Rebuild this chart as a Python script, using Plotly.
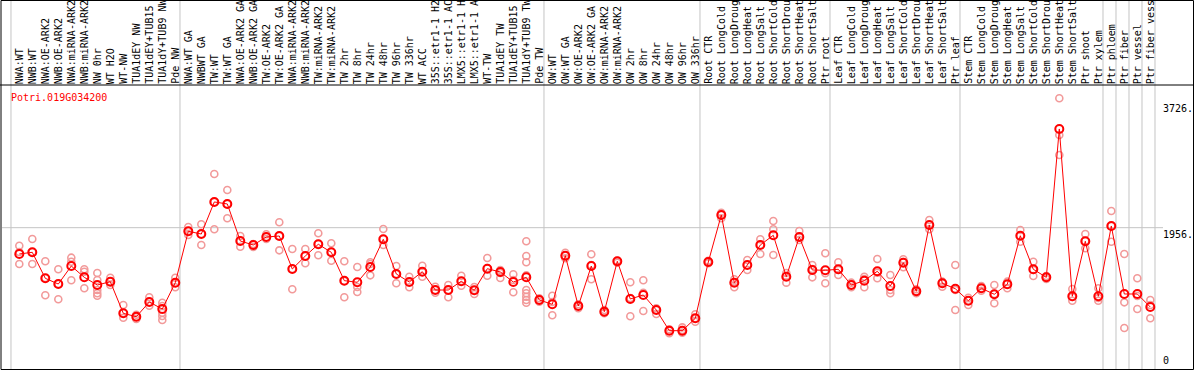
import plotly.graph_objects as go

W, H = 1194, 370

categories = [
    "NWA:WT", "NWB:WT", "NWA:OE-ARK2", "NWB:OE-ARK2", "NWA:miRNA-ARK2", "NWB:miRNA-ARK2",
    "NW 0hr", "WT H2O", "WT-NW", "TUA1dEY NW", "TUA1dEY+TUB15 NW", "TUA1dY+TUB9 NW", "Pde NW",
    "NWA:WT GA", "NWBWT GA", "TW:WT", "TW:WT GA", "NWA:OE-ARK2 GA", "NWB:OE-ARK2 GA",
    "TW:OE-ARK2", "TW:OE-ARK2 GA", "NWA:miRNA-ARK2", "NWB:miRNA-ARK2", "TW:miRNA-ARK2",
    "TW:miRNA-ARK2", "TW 2hr", "TW 8hr", "TW 24hr", "TW 48hr", "TW 96hr", "TW 336hr", "WT ACC",
    "35S::etr1-1 H2O", "35S::etr1-1 ACC", "LMX5::etr1-1 H2O", "LMX5::etr1-1 ACC", "WT-TW",
    "TUA1dEY TW", "TUA1dEY+TUB15 TW", "TUA1dY+TUB9 TW", "Pde TW",
    "OW:WT", "OW:WT GA", "OW:OE-ARK2", "OW:OE-ARK2 GA", "OW:miRNA-ARK2", "OW:miRNA-ARK2",
    "OW 2hr", "OW 8hr", "OW 24hr", "OW 48hr", "OW 96hr", "OW 336hr",
    "Root CTR", "Root LongCold", "Root LongDrought", "Root LongHeat", "Root LongSalt",
    "Root ShortCold", "Root ShortDrought", "Root ShortHeat", "Root ShortSalt", "Ptr root",
    "Leaf CTR", "Leaf LongCold", "Leaf LongDrought", "Leaf LongHeat", "Leaf LongSalt",
    "Leaf ShortCold", "Leaf ShortDrought", "Leaf ShortHeat", "Leaf ShortSalt", "Ptr leaf",
    "Stem CTR", "Stem LongCold", "Stem LongDrought", "Stem LongHeat", "Stem LongSalt",
    "Stem ShortCold", "Stem ShortDrought", "Stem ShortHeat", "Stem ShortSalt", "Ptr shoot",
    "Ptr xylem", "Ptr phloem", "Ptr fiber", "Ptr vessel", "Ptr fiber vessel",
]

means = [
    1587, 1610, 1245, 1165, 1418, 1259, 1151, 1198, 754, 706, 913, 814, 1184,
    1905, 1867, 2317, 2289, 1769, 1713, 1825, 1839, 1376, 1558, 1723, 1610, 1212, 1189,
    1404, 1793, 1306, 1193, 1338, 1081, 1081, 1203, 1077, 1380, 1334, 1193, 1259,
    941, 880, 1563, 856, 1418, 776, 1484, 955, 1011, 800, 510, 510,
    684, 1474, 2134, 1184, 1432, 1713, 1849, 1268, 1825, 1362,
    1358, 1372, 1151, 1212, 1344, 1137, 1464, 1063, 1994, 1175,
    1099, 931, 1105, 1021, 1161, 1843, 1372, 1259, 3342, 993, 1765,
    993, 1980, 1025, 1025, 842,
]

replicates = [
    [1703, 1615, 1446], [1797, 1615, 1446], [1484, 1250, 1007], [1372, 1165, 951],
    [1535, 1478, 1217], [1372, 1338, 1105], [1320, 1221, 1081, 1035, 1001],
    [1254, 1200, 1151], [870, 758, 692], [734, 702, 674], [979, 913, 861],
    [903, 856, 762, 716, 660], [1254, 1179, 1119],
    [1966, 1909, 1853], [2004, 1867, 1713], [2710, 2317, 1933], [2485, 2289, 2088],
    [1839, 1769, 1689], [1727, 1713, 1685], [1863, 1825, 1797], [2032, 1839, 1638],
    [1657, 1376, 1091], [1657, 1558, 1456], [1877, 1727, 1568], [1737, 1615, 1492],
    [1484, 1207, 979], [1404, 1123, 1053], [1470, 1446, 1287], [1938, 1797, 1713],
    [1418, 1306, 1175], [1268, 1193, 1119], [1422, 1334, 1268], [1127, 1081, 1043],
    [1151, 1081, 979], [1282, 1207, 1141], [1123, 1081, 1025], [1530, 1390, 1282],
    [1362, 1320, 1250], [1302, 1221, 1049],
    [1765, 1558, 1470, 1287, 1081, 1035, 987, 941, 903],
    [965, 941, 917], [1001, 913, 726], [1605, 1563, 1526], [880, 856, 824],
    [1582, 1432, 1231], [800, 776, 754], [1492, 1484, 1464], [1189, 969, 712],
    [1217, 1043, 786], [824, 800, 744], [529, 510, 473], [557, 519, 482],
    [740, 684, 636], [1492, 1474, 1456], [2166, 2134, 2088], [1231, 1193, 1119],
    [1502, 1432, 1362], [1793, 1713, 1587], [2050, 1933, 1572], [1320, 1278, 1184],
    [1909, 1825, 1783], [1432, 1376, 1259],
    [1596, 1316, 1175], [1470, 1362, 1292], [1184, 1151, 1119], [1268, 1235, 1119],
    [1516, 1324, 1245], [1292, 1081, 1035], [1512, 1474, 1400], [1091, 1063, 1035],
    [2064, 1994, 1933], [1198, 1175, 1127],
    [1432, 1081, 800], [973, 931, 870], [1137, 1105, 1071], [1151, 1025, 894],
    [1198, 1161, 1105], [1923, 1839, 1759], [1478, 1362, 1278], [1278, 1259, 1235],
    [3773, 3257, 2976], [1095, 983, 931], [1867, 1769, 1667],
    [1105, 969, 931], [2190, 1980, 1759], [1587, 908, 548], [1245, 997, 814],
    [941, 870, 684],
]

group_ends = [-1, 12, 40, 52, 62, 72, 83, 84, 85, 86, 87]
y_ticks = [3726, 1956, 0]
y_tick_text = ["3726.", "1956.", "0"]
gene = "Potri.019G034200"

x_idx = list(range(len(categories)))
rep_x, rep_y = [], []
for i, reps in enumerate(replicates):
    for v in reps:
        rep_x.append(i)
        rep_y.append(v)

fig = go.Figure()
fig.add_trace(go.Scatter(
    x=rep_x, y=rep_y, mode="markers", hoverinfo="skip",
    marker=dict(symbol="circle-open", size=7, color="#f29a9a",
                line=dict(width=1.6, color="#f29a9a")),
))
fig.add_trace(go.Scatter(
    x=x_idx, y=means, mode="lines+markers",
    line=dict(color="#ff0000", width=1),
    marker=dict(symbol="circle-open", size=8, color="#ff0000",
                line=dict(width=2, color="#ff0000")),
))

def px_x(p):
    return p / W

def px_y(p):
    return (H - p) / H

shapes = []
grey = "#c4c4c4"
for g in group_ends:
    shapes.append(dict(type="line", xref="x", yref="paper", x0=g + 0.36, x1=g + 0.36,
                       y0=px_y(369), y1=1, line=dict(color=grey, width=1), layer="below"))
shapes.append(dict(type="line", xref="paper", yref="y", x0=px_x(2), x1=px_x(1163),
                   y0=1956, y1=1956, line=dict(color=grey, width=1), layer="below"))
black = "#000000"
shapes.append(dict(type="line", xref="paper", yref="paper", x0=0, x1=1,
                   y0=px_y(85), y1=px_y(85), line=dict(color=black, width=1)))
shapes.append(dict(type="rect", xref="paper", yref="paper", x0=px_x(1), x1=px_x(1193.5),
                   y0=px_y(369.5), y1=px_y(0.5), line=dict(color=black, width=1)))

annotations = []
for i, lab in enumerate(categories):
    annotations.append(dict(
        x=i, xref="x", y=px_y(85), yref="paper", text=lab, showarrow=False,
        textangle=-90, xanchor="center", yanchor="bottom",
        font=dict(family="DejaVu Sans Mono", size=10, color="black"), borderpad=0,
    ))
annotations.append(dict(
    x=px_x(9), xref="paper", y=px_y(97), yref="paper", text=gene, showarrow=False,
    xanchor="left", yanchor="middle",
    font=dict(family="DejaVu Sans Mono", size=10, color="#ff0000"),
))
for v, t in zip(y_ticks, y_tick_text):
    annotations.append(dict(
        x=px_x(1162), xref="paper", y=v, yref="y", text=t, showarrow=False,
        xanchor="left", yanchor="bottom" if v == 0 else "top",
        font=dict(family="DejaVu Sans Mono", size=10, color="black"), borderpad=0,
    ))

fig.update_layout(
    width=W, height=H,
    margin=dict(l=0, r=0, t=0, b=0),
    paper_bgcolor="white", plot_bgcolor="white",
    showlegend=False,
    xaxis=dict(domain=[px_x(2), px_x(1156)], range=[-1.331, 87.438],
               showgrid=False, zeroline=False, showticklabels=False, showline=False),
    yaxis=dict(domain=[px_y(369), px_y(85)], range=[-28, 3959],
               showgrid=False, zeroline=False, showticklabels=False, showline=False),
    shapes=shapes, annotations=annotations,
)

fig.write_html("out.html", config={"displayModeBar": False},
               post_script="document.body.style.margin='0';document.body.style.overflow='hidden';")
